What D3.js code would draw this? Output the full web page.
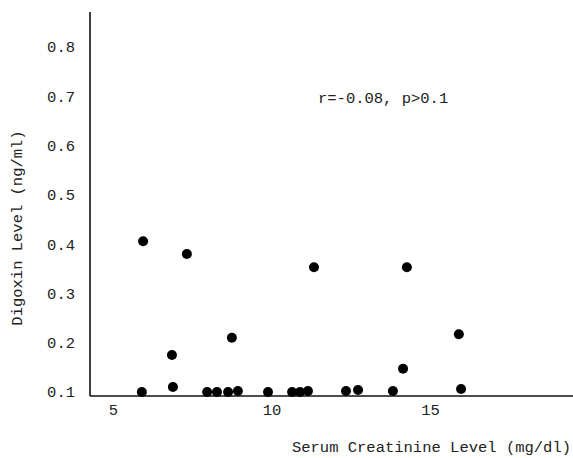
<!DOCTYPE html>
<html>
<head>
<meta charset="utf-8">
<script src="https://cdn.jsdelivr.net/npm/d3@7"></script>
<style>
  body { margin: 0; background: #fff; }
  svg text { font-family: "Liberation Mono", "DejaVu Sans Mono", monospace; fill: #222; }
</style>
</head>
<body>
<svg id="chart" width="573" height="458"></svg>
<script>
// serum creatinine (mg/dl) vs digoxin (ng/ml)
var creatinine = [5.95, 7.33, 6.86, 5.91, 6.89, 11.34, 8.75, 7.97, 8.28, 8.63, 8.94,
                  9.89, 10.65, 10.9, 11.15, 12.35, 12.73, 14.27, 15.91, 14.15, 13.83, 15.98];
var digoxin    = [0.406, 0.38, 0.175, 0.1, 0.11, 0.353, 0.21, 0.1, 0.1, 0.1, 0.102,
                  0.1, 0.1, 0.1, 0.102, 0.102, 0.104, 0.353, 0.217, 0.147, 0.102, 0.106];
var xTicks = [5, 10, 15];
var yTicks = [0.1, 0.2, 0.3, 0.4, 0.5, 0.6, 0.7, 0.8];

var svg = d3.select("#chart");

var x = d3.scaleLinear().domain([5, 15]).range([113, 430]);
var y = d3.scaleLinear().domain([0.1, 0.8]).range([392, 47]);

var axisX0 = 90, axisY0 = 396;

// axis lines
svg.append("line")
  .attr("x1", axisX0).attr("x2", axisX0)
  .attr("y1", 12).attr("y2", axisY0)
  .attr("stroke", "#111").attr("stroke-width", 1.6);
svg.append("line")
  .attr("x1", axisX0).attr("x2", 573)
  .attr("y1", axisY0).attr("y2", axisY0)
  .attr("stroke", "#111").attr("stroke-width", 1.6);

// y tick labels
var yAxis = svg.append("g")
  .attr("transform", "translate(" + axisX0 + ",0)")
  .call(d3.axisLeft(y).tickValues(yTicks).tickSize(0).tickPadding(15).tickFormat(d3.format(".1f")));
yAxis.select(".domain").remove();
yAxis.selectAll("text").style("font-size", "15.5px");

// x tick labels
var xAxis = svg.append("g")
  .attr("transform", "translate(0," + axisY0 + ")")
  .call(d3.axisBottom(x).tickValues(xTicks).tickSize(0).tickPadding(8).tickFormat(d3.format("d")));
xAxis.select(".domain").remove();
xAxis.selectAll("text").style("font-size", "15.5px");

// points
svg.selectAll("circle.pt")
  .data(creatinine)
  .enter()
  .append("circle")
  .attr("class", "pt")
  .attr("cx", function(d){ return x(d); })
  .attr("cy", function(d, i){ return y(digoxin[i]); })
  .attr("r", 5)
  .attr("fill", "#000");

// titles
svg.append("text")
  .attr("x", 571).attr("y", 452)
  .attr("text-anchor", "end")
  .style("font-size", "15.5px")
  .text("Serum Creatinine Level (mg/dl)");

svg.append("text")
  .attr("transform", "translate(22,228) rotate(-90)")
  .attr("text-anchor", "middle")
  .style("font-size", "15.5px")
  .text("Digoxin Level (ng/ml)");

svg.append("text")
  .attr("x", 318).attr("y", 103)
  .style("font-size", "15.5px")
  .text("r=-0.08, p>0.1");
</script>
</body>
</html>
